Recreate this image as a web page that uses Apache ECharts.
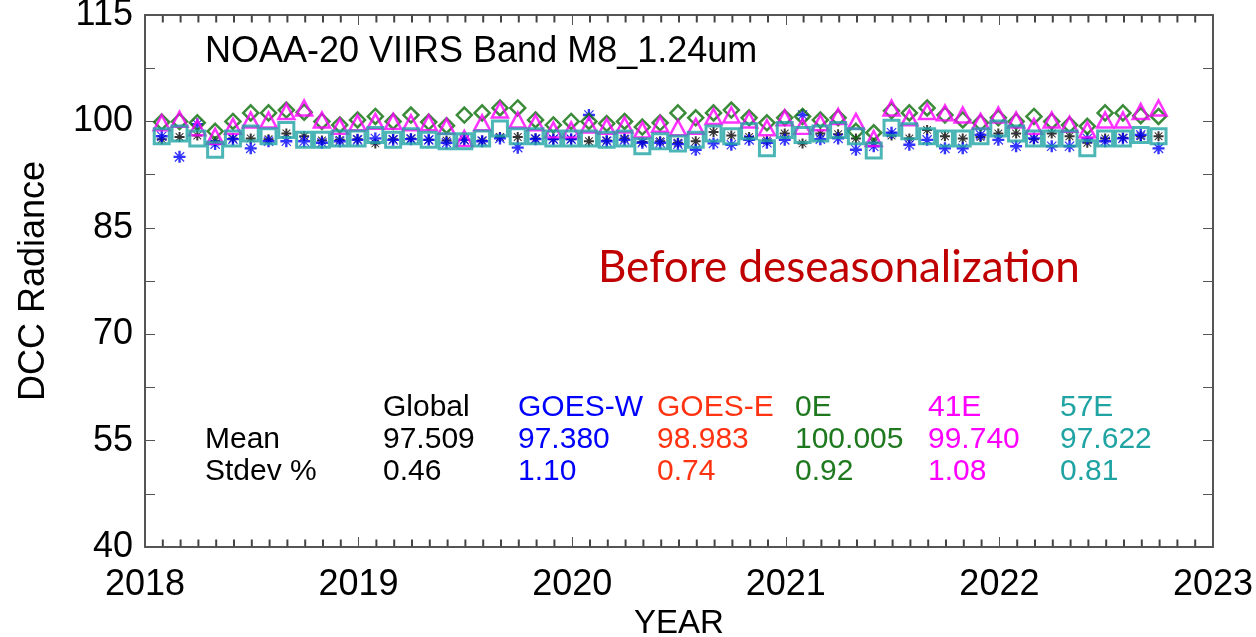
<!DOCTYPE html>
<html lang="en">
<head>
    <meta charset="UTF-8">
    <title>NOAA-20 VIIRS M8 DCC</title>
    <script src="https://cdn.jsdelivr.net/npm/echarts@6/dist/echarts.min.js"></script>
    <style>
        html, body { margin: 0; padding: 0; background: #fff; }
        #main { width: 1256px; height: 637px; }
    </style>
</head>
<body>
<div id="main"></div>
<script type="text/javascript">
    // monthly DCC radiance, Jan 2018 .. Sep 2022
    var global = [97.5, 97.8, 98.0, 97.2, 97.6, 97.6, 97.5, 98.3, 97.9, 97.3,
        97.4, 97.5, 96.9, 97.5, 97.6, 97.4, 97.3, 97.4, 97.3, 97.8,
        97.8, 97.6, 97.5, 97.5, 97.2, 97.3, 97.6, 97.1, 97.2, 97.0,
        97.2, 98.5, 98.0, 97.8, 97.3, 98.3, 96.9, 98.3, 98.2, 97.6,
        97.0, 98.0, 97.6, 98.8, 97.9, 97.6, 97.8, 98.3, 98.3, 97.5,
        98.3, 97.9, 97.0, 97.6, 97.7, 97.9, 97.9];
    var goesW = [97.9, 95.0, 99.6, 96.8, 97.5, 96.2, 97.2, 97.2, 97.2, 97.0,
        97.2, 97.4, 97.6, 97.4, 97.5, 97.4, 97.0, 97.4, 97.2, 97.6,
        96.3, 97.5, 97.5, 97.5, 100.9, 97.2, 97.4, 97.0, 97.0, 96.8,
        96.0, 96.9, 96.7, 97.4, 97.0, 97.4, 100.9, 97.5, 97.6, 96.0,
        96.5, 98.4, 96.7, 97.4, 96.2, 96.2, 98.1, 97.4, 96.5, 97.6,
        96.5, 96.5, 97.6, 97.2, 97.6, 98.1, 96.2];
    var e0 = [99.9, 100.0, 99.8, 98.6, 100.0, 101.2, 101.2, 101.6, 101.3, 100.0,
        99.5, 100.2, 100.7, 100.0, 100.9, 99.9, 99.4, 100.9, 101.2, 101.9,
        101.9, 100.2, 99.5, 100.0, 100.0, 99.7, 100.0, 99.2, 99.8, 101.2,
        100.5, 101.2, 101.6, 100.5, 99.8, 100.5, 100.7, 100.2, 100.5, 98.6,
        98.4, 101.5, 101.2, 101.9, 100.9, 100.2, 99.8, 100.5, 100.0, 100.7,
        100.0, 99.5, 99.3, 101.2, 101.2, 100.8, 100.7];
    var e41 = [99.8, 100.3, 99.1, 97.9, 99.3, 100.2, 100.2, 101.4, 101.9, 100.2,
        99.3, 99.8, 100.0, 100.0, 99.8, 99.8, 99.3, 97.6, 99.8, 101.6,
        100.2, 99.8, 98.8, 98.8, 99.5, 99.3, 99.5, 98.8, 99.6, 99.1,
        99.3, 100.7, 100.9, 100.2, 99.1, 100.5, 99.3, 99.8, 100.7, 100.0,
        97.6, 101.9, 100.5, 101.4, 101.2, 100.9, 100.0, 100.9, 100.2, 99.3,
        100.2, 99.6, 98.8, 100.2, 100.2, 101.4, 101.9];
    var e57 = [97.9, 98.3, 97.6, 96.0, 97.6, 98.3, 97.9, 98.8, 97.4, 97.4,
        97.6, 97.6, 98.1, 97.4, 97.9, 97.4, 97.2, 97.2, 97.6, 99.0,
        97.9, 97.9, 97.6, 97.6, 97.6, 97.4, 97.6, 96.5, 97.2, 96.9,
        97.4, 98.3, 97.9, 98.6, 96.2, 98.8, 98.1, 98.3, 98.8, 97.9,
        95.9, 99.1, 98.6, 97.9, 97.6, 97.6, 97.9, 99.0, 98.3, 97.6,
        97.6, 97.6, 96.2, 97.6, 97.6, 98.1, 97.9];

    // stats table
    var regions = ['Global', 'GOES-W', 'GOES-E', '0E', '41E', '57E'];
    var means = ['97.509', '97.380', '98.983', '100.005', '99.740', '97.622'];
    var stdevs = ['0.46', '1.10', '0.74', '0.92', '1.08', '0.81'];
    var regionColors = ['#000000', '#0000ff', '#ff3311', '#1e781e', '#ff00ff', '#1fa3a3'];

    var yLabels = [40, 55, 70, 85, 100, 115];
    var yTicks = [40, 47.5, 55, 62.5, 70, 77.5, 85, 92.5, 100, 107.5, 115];
    var yMin = 40, yMax = 115;

    // monthly minor ticks along the year axis (years get the long axis ticks)
    var monthTicks = [];
    for (var k = 1; k < 60; k++) if (k % 12 !== 0) monthTicks.push(2018 + k / 12);

    function toPoints(vals) {
        return vals.map(function (v, i) {
            return [2018 + (i + 0.94) / 12, v];
        });
    }

    var star = 'path://M4 0h2v10h-2z M0 4h10v2h-10z M1.5 0.8L9.2 8.5L8.5 9.2L0.8 1.5z M8.5 0.8L9.2 1.5L1.5 9.2L0.8 8.5z';
    var FONT = '"Liberation Sans", Arial, sans-serif';
    var axisCol = '#555';

    // table text
    var colX = [383, 518, 657, 795, 928, 1060];
    var rowY = [408, 440, 472];
    var table = [
        { type: 'text', x: 205, y: rowY[1], style: { text: 'Mean', font: '30px ' + FONT, fill: '#000', textVerticalAlign: 'middle' } },
        { type: 'text', x: 205, y: rowY[2], style: { text: 'Stdev %', font: '30px ' + FONT, fill: '#000', textVerticalAlign: 'middle' } }
    ];
    regions.forEach(function (r, i) {
        [r, means[i], stdevs[i]].forEach(function (t, j) {
            table.push({ type: 'text', x: colX[i], y: rowY[j],
                style: { text: t, font: '30px ' + FONT, fill: regionColors[i], textVerticalAlign: 'middle' } });
        });
    });
    table.push({ type: 'text', x: 205, y: 52,
        style: { text: 'NOAA-20 VIIRS Band M8_1.24um', font: '36px ' + FONT, fill: '#000', textVerticalAlign: 'middle' } });
    table.push({ type: 'text', x: 598, y: 268,
        style: { text: 'Before deseasonalization', font: '44px Lato, "Open Sans", sans-serif', fill: '#c00000', textVerticalAlign: 'middle' } });

    var myChart = echarts.init(document.getElementById('main'));

    function xAx(pos, showLabel) {
        return {
            type: 'value', position: pos, min: 2018, max: 2023, interval: 1,
            name: showLabel ? 'YEAR' : '', nameLocation: 'middle', nameGap: 58,
            nameTextStyle: { fontFamily: FONT, fontSize: 33, color: '#000' },
            axisLine: { show: true, onZero: false, lineStyle: { color: axisCol, width: 2 } },
            axisTick: { inside: true, length: 10, lineStyle: { color: axisCol } },
            axisLabel: { show: showLabel, fontFamily: FONT, fontSize: 36, color: '#000', margin: 20,
                formatter: function (v) { return String(v); } },
            splitLine: { show: false }
        };
    }
    function yAx(pos, showLabel) {
        return {
            type: 'value', position: pos, min: yMin, max: yMax,
            name: showLabel ? 'DCC Radiance' : '', nameLocation: 'middle', nameGap: 93, nameRotate: 90,
            nameTextStyle: { fontFamily: FONT, fontSize: 36, color: '#000' },
            axisLine: { show: true, onZero: false, lineStyle: { color: axisCol, width: 2 } },
            axisTick: { inside: true, length: 10, customValues: yTicks, lineStyle: { color: axisCol } },
            axisLabel: { show: showLabel, customValues: yLabels, fontFamily: FONT, fontSize: 36, color: '#000', margin: 12 },
            splitLine: { show: false }
        };
    }

    var hollow = function (c, w) {
        return { color: 'rgba(0,0,0,0)', borderColor: c, borderWidth: w };
    };

    // short month ticks drawn as tiny bars sitting on the bottom and top frame
    function tickSeries(yVal, offset) {
        return {
            type: 'scatter', silent: true, clip: false, z: 5,
            data: monthTicks.map(function (m) { return [m, yVal]; }),
            symbol: 'rect', symbolSize: [2, 7], symbolOffset: [0, offset],
            itemStyle: { color: '#444', opacity: 1 }
        };
    }

    var option = {
        animation: false,
        grid: { left: 145, right: 43, top: 15, bottom: 90, outerBoundsMode: 'none', containLabel: false },
        xAxis: [xAx('bottom', true), xAx('top', false)],
        yAxis: [yAx('left', true), yAx('right', false)],
        graphic: table,
        series: [
            tickSeries(yMin, -4),
            tickSeries(yMax, 4),
            { name: 'Global', type: 'scatter', data: toPoints(global), symbol: star, symbolSize: 10,
              itemStyle: { color: '#000' } },
            { name: 'GOES-W', type: 'scatter', data: toPoints(goesW), symbol: star, symbolSize: 12,
              itemStyle: { color: '#0000ff' } },
            { name: '0E', type: 'scatter', data: toPoints(e0), symbol: 'diamond', symbolSize: [15, 15],
              itemStyle: hollow('#0a6e0a', 2.5) },
            { name: '41E', type: 'scatter', data: toPoints(e41), symbol: 'triangle', symbolSize: [16, 15],
              itemStyle: hollow('#ff00ff', 2.5) },
            { name: '57E', type: 'scatter', data: toPoints(e57), symbol: 'rect', symbolSize: 15,
              itemStyle: hollow('#1fa3a3', 3) }
        ]
    };
    option && myChart.setOption(option);
</script>
</body>
</html>
